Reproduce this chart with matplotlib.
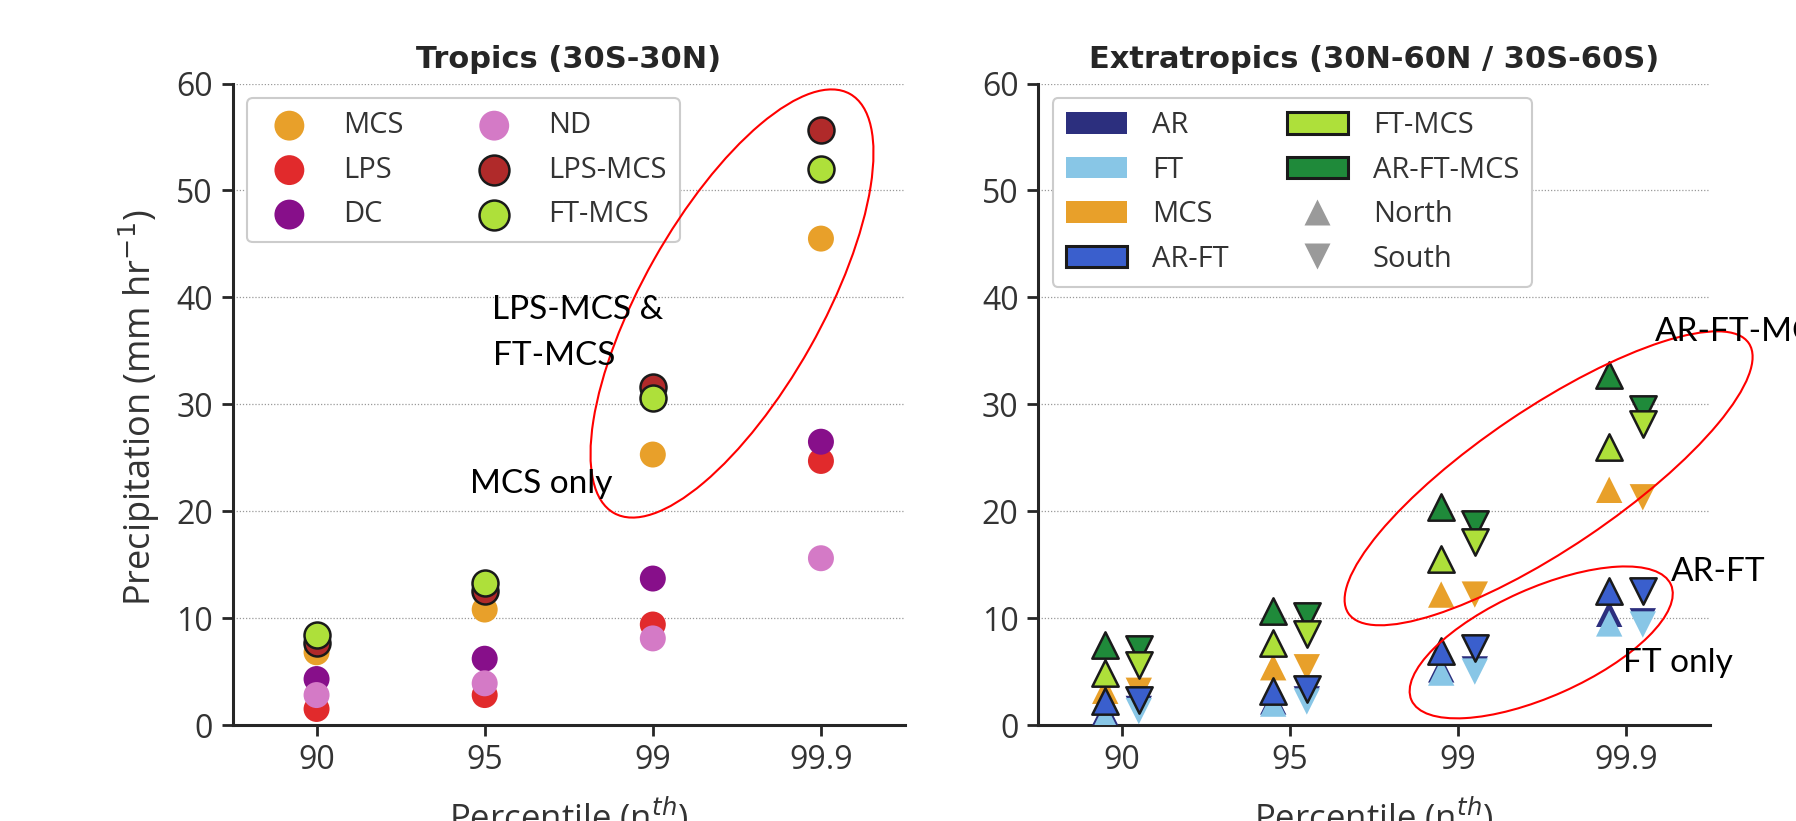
import matplotlib
matplotlib.use("Agg")
import matplotlib.pyplot as plt
from matplotlib.patches import Patch, Ellipse
from matplotlib.lines import Line2D
import numpy as np

# ---------------- data ----------------
percentiles = ["90", "95", "99", "99.9"]

# Tropics (30S-30N)
trop_MCS = [6.8, 10.8, 25.3, 45.5]
trop_LPS = [1.5, 2.8, 9.4, 24.7]
trop_DC = [4.3, 6.2, 13.7, 26.5]
trop_ND = [2.8, 3.9, 8.1, 15.6]
trop_LPS_MCS = [7.7, 12.5, 31.6, 55.7]
trop_FT_MCS = [8.4, 13.3, 30.6, 52.0]

# Extratropics - North (upward triangles)
north_AR = [1.2, 2.2, 5.2, 10.4]
north_FT = [0.8, 2.0, 4.9, 9.5]
north_MCS = [3.2, 5.4, 12.2, 22.0]
north_AR_FT = [2.2, 3.2, 6.9, 12.5]
north_FT_MCS = [4.9, 7.7, 15.5, 26.0]
north_AR_FT_MCS = [7.5, 10.7, 20.4, 32.7]

# Extratropics - South (downward triangles)
south_AR = [1.5, 2.4, 5.2, 9.7]
south_FT = [1.3, 2.2, 5.0, 9.4]
south_MCS = [3.2, 5.4, 12.2, 21.3]
south_AR_FT = [2.3, 3.4, 7.2, 12.5]
south_FT_MCS = [5.6, 8.5, 17.1, 28.2]
south_AR_FT_MCS = [7.1, 10.2, 18.8, 29.6]

# ---------------- style ----------------
C_MCS = "#E8A02A"
C_LPS = "#E12A2C"
C_DC = "#870F8A"
C_ND = "#D47AC6"
C_LPSMCS = "#B02A2A"
C_FTMCS = "#AEE03A"
C_AR = "#2C2F7E"
C_FT = "#88C6E6"
C_ARFT = "#3A5FCD"
C_ARFTMCS = "#1F8A3A"
C_NS = "#9A9A9A"
EDGE = "#1a1a1a"
TXT = "#333333"

plt.rcParams["font.family"] = ["Open Sans", "DejaVu Sans"]
plt.rcParams["mathtext.fontset"] = "dejavusans"

W, H = 1796, 821
fig = plt.figure(figsize=(W / 100, H / 100), dpi=100)

axL = fig.add_axes([232.5 / W, 1 - 725 / H, (905 - 232.5) / W, (725 - 83.6) / H])
axR = fig.add_axes([1038 / W, 1 - 725 / H, (1710 - 1038) / W, (725 - 83.6) / H])

x = np.arange(len(percentiles))
S_C = 350
S_T = 360
LW_E = 1.8

# Tropics
axL.scatter(x, trop_MCS, s=S_C, color=C_MCS, edgecolors="none", label="MCS", zorder=3)
axL.scatter(x, trop_LPS, s=S_C, color=C_LPS, edgecolors="none", label="LPS", zorder=3)
axL.scatter(x, trop_DC, s=S_C, color=C_DC, edgecolors="none", label="DC", zorder=3)
axL.scatter(x, trop_ND, s=S_C, color=C_ND, edgecolors="none", label="ND", zorder=3)
axL.scatter(x, trop_LPS_MCS, s=S_C, color=C_LPSMCS, edgecolors=EDGE, linewidths=LW_E,
            label="LPS-MCS", zorder=3)
axL.scatter(x, trop_FT_MCS, s=S_C, color=C_FTMCS, edgecolors=EDGE, linewidths=LW_E,
            label="FT-MCS", zorder=3)

# Extratropics
off = 0.1
series = [
    (north_AR, south_AR, C_AR, False),
    (north_FT, south_FT, C_FT, False),
    (north_MCS, south_MCS, C_MCS, False),
    (north_AR_FT, south_AR_FT, C_ARFT, True),
    (north_AR_FT_MCS, south_AR_FT_MCS, C_ARFTMCS, True),
    (north_FT_MCS, south_FT_MCS, C_FTMCS, True),
]
for nvals, svals, col, edged in series:
    kw = dict(s=S_T, color=col, zorder=3)
    if edged:
        kw.update(edgecolors=EDGE, linewidths=LW_E)
    else:
        kw.update(edgecolors="none")
    axR.scatter(x - off, nvals, marker="^", **kw)
    axR.scatter(x + off, svals, marker="v", **kw)

for ax in (axL, axR):
    ax.set_xlim(-0.5, 3.5)
    ax.set_ylim(0, 60)
    ax.set_xticks(x)
    ax.set_xticklabels(percentiles)
    ax.set_yticks([0, 10, 20, 30, 40, 50, 60])
    for side in ("top", "right"):
        ax.spines[side].set_visible(False)
    for side in ("left", "bottom"):
        ax.spines[side].set_linewidth(2.2)
        ax.spines[side].set_color("#262626")
    ax.tick_params(axis="both", length=8, width=2, color="#262626",
                   labelsize=23, labelcolor=TXT, pad=6)
    ax.yaxis.grid(True, linestyle=(0, (1, 1.5)), color="#999999", linewidth=0.9)
    ax.set_axisbelow(True)
    ax.set_xlabel("Percentile (n$^{th}$)", fontsize=25, color=TXT, labelpad=13)

axL.set_ylabel("Precipitation (mm hr$^{-1}$)", fontsize=26, color=TXT, labelpad=12)
axL.yaxis.set_label_coords(-0.105, 0.494)
title_kw = dict(fontsize=22, fontweight="bold", color="#262626", pad=11,
                family=["DejaVu Sans"])
axL.set_title("Tropics (30S-30N)", **title_kw)
axR.set_title("Extratropics (30N-60N / 30S-60S)", **title_kw)

leg_kw = dict(loc="upper left", ncol=2, fontsize=21, handletextpad=0.85,
              labelspacing=0.53, borderpad=0.45, borderaxespad=0.5, frameon=True,
              fancybox=True, framealpha=1.0, edgecolor="#cccccc")
legL = axL.legend(markerscale=1.15, handlelength=2.0, columnspacing=2.1, **leg_kw)
legL.get_frame().set_linewidth(1.5)
for t in legL.get_texts():
    t.set_color(TXT)

handlesR = [
    Patch(facecolor=C_AR, edgecolor="none", label="AR"),
    Patch(facecolor=C_FT, edgecolor="none", label="FT"),
    Patch(facecolor=C_MCS, edgecolor="none", label="MCS"),
    Patch(facecolor=C_ARFT, edgecolor=EDGE, linewidth=2.2, label="AR-FT"),
    Patch(facecolor=C_FTMCS, edgecolor=EDGE, linewidth=2.2, label="FT-MCS"),
    Patch(facecolor=C_ARFTMCS, edgecolor=EDGE, linewidth=2.2, label="AR-FT-MCS"),
    Line2D([], [], linestyle="none", marker="^", markersize=19, color=C_NS,
           markeredgecolor="none", label="North"),
    Line2D([], [], linestyle="none", marker="v", markersize=19, color=C_NS,
           markeredgecolor="none", label="South"),
]
legR = axR.legend(handles=handlesR, handlelength=2.1, handleheight=0.75,
                  columnspacing=2.0, **leg_kw)
legR.get_frame().set_linewidth(1.5)
for t in legR.get_texts():
    t.set_color(TXT)

# ---------------- annotations (image pixel coordinates) ----------------
ov = fig.add_axes([0, 0, 1, 1], zorder=10)
ov.set_xlim(0, W)
ov.set_ylim(H, 0)
ov.axis("off")
ov.patch.set_alpha(0)

ann_font = dict(family=["Lato", "DejaVu Sans"], fontsize=24, color="black", va="baseline")
ov.text(492.5, 319, "LPS-MCS &", **ann_font)
ov.text(492.5, 365, "FT-MCS", **ann_font)
ov.text(469.6, 493, "MCS only", **ann_font)
ov.text(1655, 341, "AR-FT-MCS", **ann_font)
ov.text(1671, 581, "AR-FT", **ann_font)
ov.text(1623, 672, "FT only", **ann_font)

ell_kw = dict(fill=False, edgecolor="#FF0000", linewidth=1.5)
ov.add_patch(Ellipse((732, 303.5), 481, 179, angle=-60.6, **ell_kw))
ov.add_patch(Ellipse((1548.6, 478.3), 483, 140, angle=-34.0, **ell_kw))
ov.add_patch(Ellipse((1541.2, 642.4), 284, 108, angle=-24.0, **ell_kw))

fig.savefig("out.png", dpi=100)
